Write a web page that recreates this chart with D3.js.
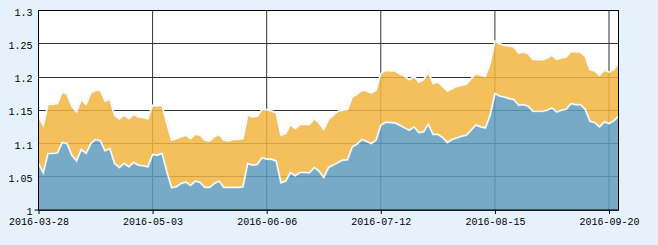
<!DOCTYPE html>
<html>
<head>
<meta charset="utf-8">
<script src="https://cdn.jsdelivr.net/npm/d3@7"></script>
<style>
  body { margin: 0; background: #e6f2fb; }
  svg { display: block; }
</style>
</head>
<body>
<svg class="chart"></svg>
<script>
// trading days shown on the category axis
const dates = [
  "2016-03-28","2016-03-29","2016-03-30","2016-03-31","2016-04-01","2016-04-05","2016-04-06","2016-04-07","2016-04-08",
  "2016-04-11","2016-04-12","2016-04-13","2016-04-14","2016-04-15","2016-04-18","2016-04-19","2016-04-20","2016-04-21","2016-04-22",
  "2016-04-25","2016-04-26","2016-04-27","2016-04-28","2016-04-29","2016-05-03","2016-05-04","2016-05-05","2016-05-06",
  "2016-05-09","2016-05-10","2016-05-11","2016-05-12","2016-05-13","2016-05-16","2016-05-17","2016-05-18","2016-05-19","2016-05-20",
  "2016-05-23","2016-05-24","2016-05-25","2016-05-26","2016-05-27","2016-05-30","2016-05-31","2016-06-01","2016-06-02","2016-06-03",
  "2016-06-06","2016-06-07","2016-06-08","2016-06-13","2016-06-14","2016-06-15","2016-06-16","2016-06-17",
  "2016-06-20","2016-06-21","2016-06-22","2016-06-23","2016-06-24","2016-06-27","2016-06-28","2016-06-29","2016-06-30","2016-07-01",
  "2016-07-04","2016-07-05","2016-07-06","2016-07-07","2016-07-08","2016-07-11","2016-07-12","2016-07-13","2016-07-14","2016-07-15",
  "2016-07-18","2016-07-19","2016-07-20","2016-07-21","2016-07-22","2016-07-25","2016-07-26","2016-07-27","2016-07-28","2016-07-29",
  "2016-08-01","2016-08-02","2016-08-03","2016-08-04","2016-08-05","2016-08-08","2016-08-09","2016-08-10","2016-08-11","2016-08-12",
  "2016-08-15","2016-08-16","2016-08-17","2016-08-18","2016-08-19","2016-08-22","2016-08-23","2016-08-24","2016-08-25","2016-08-26",
  "2016-08-29","2016-08-30","2016-08-31","2016-09-01","2016-09-02","2016-09-05","2016-09-06","2016-09-07","2016-09-08","2016-09-09",
  "2016-09-12","2016-09-13","2016-09-14","2016-09-19","2016-09-20","2016-09-21","2016-09-22"
];

const upperValues = [
  1.14,1.1275,1.159,1.159,1.16,1.1775,1.174,1.156,1.1475,1.166,1.159,1.176,1.18,1.18,1.164,1.1665,1.1425,1.137,1.1425,1.1375,
  1.1435,1.14,1.139,1.137,1.1575,1.1565,1.1575,1.13,1.105,1.1075,1.11,1.1125,1.1075,1.114,1.1125,1.105,1.104,1.11,1.1135,
  1.105,1.104,1.106,1.106,1.1075,1.1425,1.14,1.141,1.151,1.151,1.149,1.146,1.1125,1.115,1.1285,1.1225,1.1285,1.1285,1.1285,1.137,
  1.131,1.121,1.136,1.1425,1.1485,1.15,1.151,1.17,1.174,1.18,1.179,1.176,1.18,1.205,1.21,1.209,1.209,1.205,1.201,1.196,1.201,1.1925,
  1.196,1.2075,1.19,1.1925,1.186,1.179,1.1825,1.186,1.1875,1.189,1.1975,1.205,1.2025,1.201,1.22,1.254,1.25,1.2475,1.2465,1.245,
  1.236,1.2375,1.235,1.2265,1.226,1.226,1.2285,1.2325,1.2265,1.2285,1.23,1.2385,1.2375,1.2375,1.231,1.211,1.209,1.2025,1.21,1.2075,1.211,1.22
];

const lowerValues = [
  1.07,1.056,1.085,1.085,1.086,1.1015,1.1,1.0825,1.074,1.091,1.085,1.1,1.106,1.104,1.089,1.0925,1.07,1.064,1.07,1.065,
  1.0715,1.0675,1.0665,1.065,1.0835,1.0825,1.085,1.0575,1.0335,1.035,1.04,1.042,1.037,1.0435,1.0415,1.034,1.034,1.04,1.0435,
  1.034,1.034,1.034,1.034,1.035,1.07,1.0675,1.0685,1.0785,1.0765,1.0765,1.0735,1.041,1.0435,1.0565,1.0515,1.0565,1.0565,1.056,1.064,
  1.0585,1.049,1.064,1.0675,1.0715,1.075,1.0755,1.095,1.099,1.106,1.1035,1.1,1.105,1.1275,1.132,1.1315,1.131,1.1275,1.1235,1.12,1.125,1.1165,
  1.1175,1.129,1.1135,1.114,1.109,1.1015,1.106,1.1085,1.111,1.1125,1.12,1.128,1.125,1.1235,1.1425,1.175,1.1715,1.17,1.1675,1.166,
  1.1575,1.1585,1.156,1.1485,1.1485,1.1485,1.15,1.1535,1.1475,1.15,1.1515,1.16,1.1585,1.1585,1.1515,1.1335,1.1315,1.125,1.1325,1.13,1.134,1.141
];

const xTickLabels = ["2016-03-28","2016-05-03","2016-06-06","2016-07-12","2016-08-15","2016-09-20"];
const yTicks = [1, 1.05, 1.1, 1.15, 1.2, 1.25, 1.3];

const W = 658, H = 245;
const margin = { top: 10.5, right: 39.5, bottom: 35, left: 38.5 };
const width = W - margin.left - margin.right;
const height = H - margin.top - margin.bottom;

const svg = d3.select("svg.chart").attr("width", W).attr("height", H);
const g = svg.append("g").attr("transform", `translate(${margin.left},${margin.top})`);

const x = d3.scalePoint().domain(dates).range([0, width]);
const y = d3.scaleLinear().domain([1, 1.3]).range([height, 0]);

const rows = dates.map((d, i) => ({ date: d, lo: lowerValues[i], hi: upperValues[i] }));

g.append("rect").attr("width", width).attr("height", height).attr("fill", "#fff");

// grid
g.append("g").selectAll("line").data(yTicks).join("line")
  .attr("x1", 0).attr("x2", width)
  .attr("y1", d => Math.round(y(d))).attr("y2", d => Math.round(y(d)))
  .attr("stroke", "#333").attr("stroke-width", 1);
g.append("g").selectAll("line").data(xTickLabels).join("line")
  .attr("x1", d => x(d)).attr("x2", d => x(d))
  .attr("y1", 0).attr("y2", height)
  .attr("stroke", "#333").attr("stroke-width", 1);

// areas
const bandArea = d3.area().x(d => x(d.date)).y0(d => y(d.lo)).y1(d => y(d.hi));
const lowArea = d3.area().x(d => x(d.date)).y0(y(1)).y1(d => y(d.lo));

g.append("path").datum(rows).attr("d", bandArea)
  .attr("fill", "#f2b53f").attr("fill-opacity", 0.85);
g.append("path").datum(rows).attr("d", lowArea)
  .attr("fill", "#5e9bbc").attr("fill-opacity", 0.85);

const hiLine = d3.line().x(d => x(d.date)).y(d => y(d.hi));
const loLine = d3.line().x(d => x(d.date)).y(d => y(d.lo));
[hiLine, loLine].forEach(l => {
  g.append("path").datum(rows).attr("d", l)
    .attr("fill", "none").attr("stroke", "#d8ecfa").attr("stroke-width", 2.2).attr("stroke-opacity", 0.6);
  g.append("path").datum(rows).attr("d", l)
    .attr("fill", "none").attr("stroke", "#fff").attr("stroke-width", 1.1);
});

// frame
g.append("rect").attr("width", width).attr("height", height)
  .attr("fill", "none").attr("stroke", "#000").attr("stroke-width", 1);

// axes
const xAxis = g.append("g").attr("transform", `translate(0,${height})`)
  .call(d3.axisBottom(x).tickValues(xTickLabels).tickSize(4).tickPadding(4));
xAxis.select(".domain").remove();
xAxis.selectAll("text").attr("font-family", "Liberation Mono, DejaVu Sans Mono, monospace")
  .attr("font-size", 10).attr("fill", "#000");
xAxis.selectAll("line").attr("stroke", "#000");

const yAxis = g.append("g")
  .call(d3.axisLeft(y).tickValues(yTicks).tickSize(0).tickPadding(6).tickFormat(d => String(+d.toFixed(2))));
yAxis.select(".domain").remove();
yAxis.selectAll("text").attr("font-family", "Liberation Mono, DejaVu Sans Mono, monospace")
  .attr("font-size", 10).attr("fill", "#000").attr("dy", "0.45em");

// small corner tick at the axis origin
g.append("line").attr("x1", -4).attr("x2", 0).attr("y1", y(1)).attr("y2", y(1))
  .attr("stroke", "#000");
</script>
</body>
</html>
